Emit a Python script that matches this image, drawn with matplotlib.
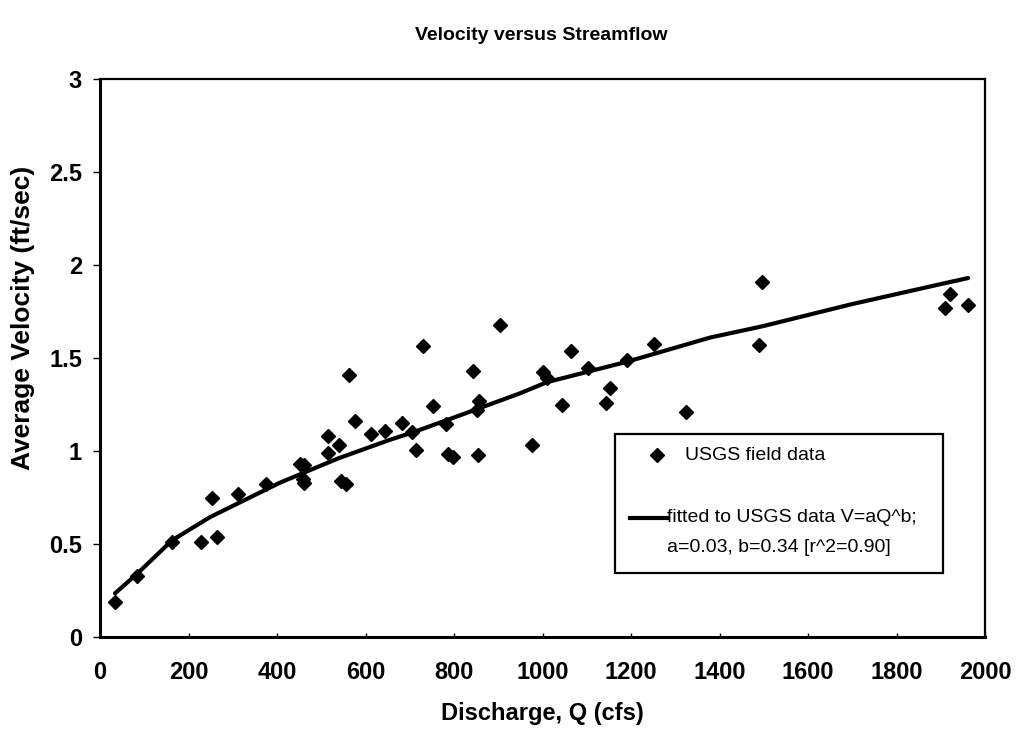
import matplotlib
matplotlib.use("Agg")
import matplotlib.pyplot as plt
from matplotlib.patches import Rectangle
from matplotlib.lines import Line2D

plt.rcParams["font.family"] = ["Liberation Sans", "DejaVu Sans"]

# ---- data ----
discharge = [34, 84, 163, 228, 253, 264, 312, 375, 452, 460, 458, 462,
             515, 515, 540, 545, 556, 563, 576, 612, 644, 682, 705, 714,
             730, 753, 782, 786, 798, 843, 852, 857, 854, 904, 976, 1001,
             1010, 1044, 1064, 1103, 1143, 1153, 1191, 1252, 1324, 1489,
             1496, 1910, 1921, 1962]
velocity = [0.19, 0.33, 0.51, 0.51, 0.75, 0.54, 0.77, 0.82, 0.93, 0.925, 0.85, 0.83,
            1.08, 0.99, 1.03, 0.84, 0.82, 1.41, 1.16, 1.09, 1.11, 1.15, 1.10, 1.005,
            1.565, 1.24, 1.145, 0.985, 0.97, 1.43, 1.22, 1.27, 0.98, 1.68, 1.03, 1.425,
            1.39, 1.25, 1.54, 1.445, 1.26, 1.34, 1.49, 1.575, 1.21, 1.57,
            1.91, 1.77, 1.845, 1.785]

fit_q = [34, 84, 163, 249, 407, 538, 655, 707, 800, 949, 1010, 1191, 1379, 1496, 1700, 1905, 1962]
fit_v = [0.235, 0.34, 0.52, 0.645, 0.83, 0.96, 1.06, 1.10, 1.18, 1.31, 1.37, 1.48, 1.61, 1.67, 1.79, 1.90, 1.93]

x_ticks = [0, 200, 400, 600, 800, 1000, 1200, 1400, 1600, 1800, 2000]
y_ticks = [0, 0.5, 1, 1.5, 2, 2.5, 3]
y_tick_labels = ["0", "0.5", "1", "1.5", "2", "2.5", "3"]

title = "Velocity versus Streamflow"
x_label = "Discharge, Q (cfs)"
y_label = "Average Velocity (ft/sec)"
legend_points = "USGS field data"
legend_line_1 = "fitted to USGS data V=aQ^b;"
legend_line_2 = "a=0.03, b=0.34 [r^2=0.90]"

# ---- figure ----
fig = plt.figure(figsize=(10.21, 7.38), dpi=100)
ax = fig.add_axes([100/1021, 1-637/738, 885/1021, 558/738])

ax.plot(fit_q, fit_v, color="black", lw=3.0, solid_capstyle="round", zorder=2)
ax.plot(discharge, velocity, linestyle="none", marker="D", ms=7,
        color="black", zorder=3)

ax.set_xlim(0, 2000)
ax.set_ylim(0, 3)
ax.set_xticks(x_ticks)
ax.set_xticklabels([str(t) for t in x_ticks])
ax.set_yticks(y_ticks)
ax.set_yticklabels(y_tick_labels)

for s in ax.spines.values():
    s.set_linewidth(1.6)
    s.set_color("black")
ax.spines["left"].set_linewidth(2.2)
ax.spines["bottom"].set_linewidth(2.2)

ax.tick_params(axis="y", direction="out", length=5, width=1, labelsize=17, pad=8)
ax.tick_params(axis="x", direction="in", length=3, width=1, labelsize=17, pad=17)
for lab in ax.get_xticklabels() + ax.get_yticklabels():
    lab.set_fontweight("bold")

ax.set_xlabel(x_label, fontsize=17, fontweight="bold", labelpad=13)
ax.set_ylabel(y_label, fontsize=19, fontweight="bold")
ax.yaxis.set_label_coords(-30/885 - 0.04, (637-318)/558)
fig.text(541/1021, 1-35/738, title, ha="center", va="center",
         fontsize=14, fontweight="bold")

# ---- legend box ----
x0, x1 = (615-100)/885, (943-100)/885
yb, yt = (637-573)/558, (637-434)/558
ax.add_patch(Rectangle((x0, yb), x1-x0, yt-yb, transform=ax.transAxes,
                       facecolor="white", edgecolor="black", lw=1.6, zorder=4))
ym1 = (637-455)/558
ax.add_line(Line2D([(657-100)/885], [ym1], marker="D", ms=7, color="black",
                   transform=ax.transAxes, zorder=5))
ax.text((685-100)/885, ym1, legend_points, transform=ax.transAxes,
        fontsize=14, va="center", ha="left", zorder=5)
ym2 = (637-518)/558
ym3 = (637-548)/558
ax.add_line(Line2D([(630-100)/885, (667-100)/885], [ym2, ym2], lw=3.0,
                   color="black", transform=ax.transAxes, zorder=5))
ax.text((667-100)/885, ym2, legend_line_1, transform=ax.transAxes,
        fontsize=14, va="center", ha="left", zorder=5)
ax.text((667-100)/885, ym3, legend_line_2, transform=ax.transAxes,
        fontsize=14, va="center", ha="left", zorder=5)

fig.savefig("out.png", dpi=100, facecolor="white")
